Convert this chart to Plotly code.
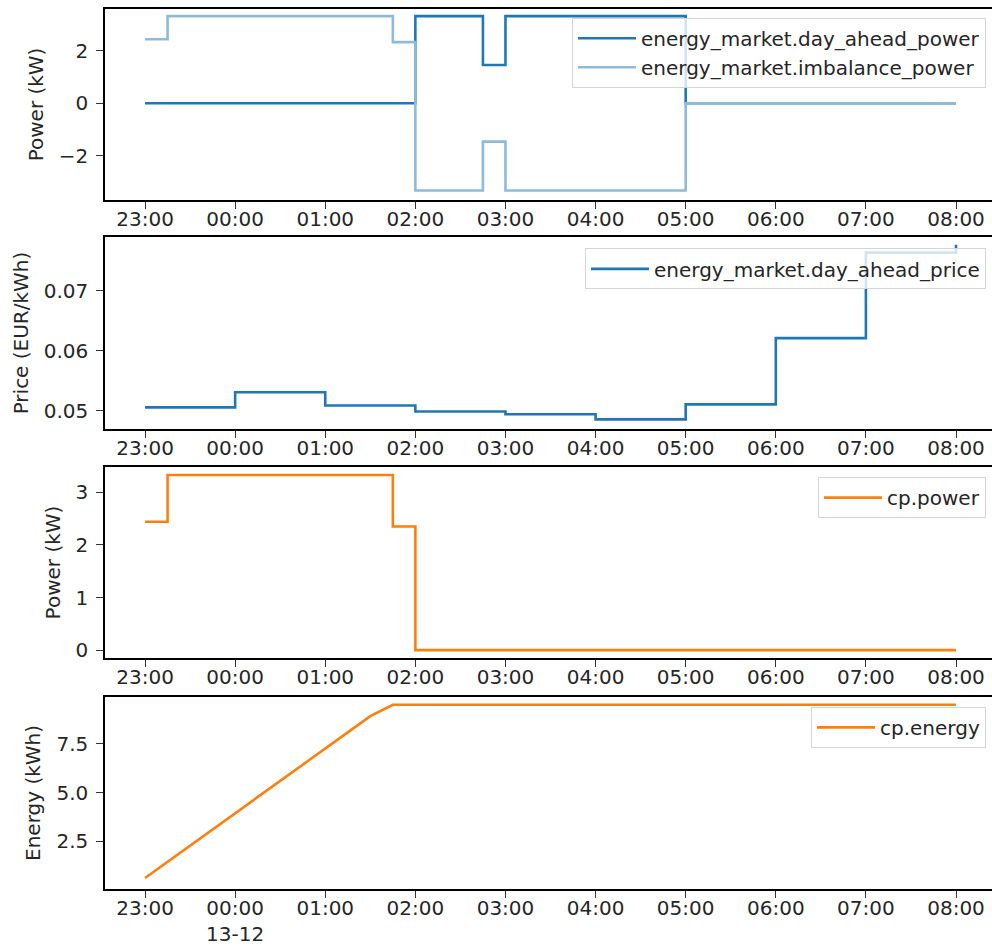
import plotly.graph_objects as go

# ---- data ----
day = "2022-12-13"
prev = "2022-12-12"

da_power_t = [f"{prev} 23:00", f"{day} 02:00", f"{day} 02:45", f"{day} 03:00", f"{day} 05:00", f"{day} 08:00"]
da_power_v = [0.0, 3.32, 1.46, 3.32, 0.0, 0.0]

imb_power_t = [f"{prev} 23:00", f"{prev} 23:15", f"{day} 01:45", f"{day} 02:00", f"{day} 02:45",
               f"{day} 03:00", f"{day} 05:00", f"{day} 08:00"]
imb_power_v = [2.44, 3.32, 2.33, -3.32, -1.46, -3.32, 0.0, 0.0]

price_t = [f"{prev} 23:00", f"{day} 00:00", f"{day} 01:00", f"{day} 02:00", f"{day} 03:00",
           f"{day} 04:00", f"{day} 05:00", f"{day} 06:00", f"{day} 07:00", f"{day} 08:00"]
price_v = [0.0506, 0.0531, 0.0509, 0.0499, 0.04945, 0.0486, 0.0511, 0.0621, 0.0763, 0.0776]

cp_power_t = [f"{prev} 23:00", f"{prev} 23:15", f"{day} 01:45", f"{day} 02:00", f"{day} 08:00"]
cp_power_v = [2.44, 3.33, 2.35, 0.0, 0.0]

cp_energy_t = [f"{prev} 23:00", f"{day} 01:30", f"{day} 01:45", f"{day} 08:00"]
cp_energy_v = [0.6, 8.93, 9.52, 9.52]

tick_vals = [f"{prev} 23:00"] + [f"{day} {h:02d}:00" for h in range(0, 9)]
tick_text = ["23:00", "00:00", "01:00", "02:00", "03:00", "04:00", "05:00", "06:00", "07:00", "08:00"]
tick_text_bottom = ["23:00", "00:00<br>13-12", "01:00", "02:00", "03:00", "04:00", "05:00", "06:00", "07:00", "08:00"]

x_range = [f"{prev} 22:33:20", f"{day} 08:42:37"]

BLUE = "#1f77b4"
LIGHT = "#8fbbd9"
ORANGE = "#ff7f0e"
FONT = "DejaVu Sans"
TXT = "#262626"

fig = go.Figure()

fig.add_trace(go.Scatter(x=da_power_t, y=da_power_v, mode="lines", line=dict(shape="hv", color=BLUE, width=2.6),
                         name="energy_market.day_ahead_power", xaxis="x", yaxis="y", legend="legend"))
fig.add_trace(go.Scatter(x=imb_power_t, y=imb_power_v, mode="lines", line=dict(shape="hv", color=LIGHT, width=2.6),
                         name="energy_market.imbalance_power", xaxis="x", yaxis="y", legend="legend"))
fig.add_trace(go.Scatter(x=price_t, y=price_v, mode="lines", line=dict(shape="hv", color=BLUE, width=2.6),
                         name="energy_market.day_ahead_price", xaxis="x2", yaxis="y2", legend="legend2"))
fig.add_trace(go.Scatter(x=cp_power_t, y=cp_power_v, mode="lines", line=dict(shape="hv", color=ORANGE, width=2.6),
                         name="cp.power", xaxis="x3", yaxis="y3", legend="legend3"))
fig.add_trace(go.Scatter(x=cp_energy_t, y=cp_energy_v, mode="lines", line=dict(color=ORANGE, width=2.6),
                         name="cp.energy", xaxis="x4", yaxis="y4", legend="legend4"))

domains = [[0.7830, 1.0], [0.5227, 0.7409], [0.2625, 0.4795], [0.0, 0.2182]]
y_ranges = [[-3.68, 3.59], [0.0470, 0.0789], [-0.15, 3.48], [0.03, 9.92]]
y_titles = ["Power (kW)", "Price (EUR/kWh)", "Power (kW)", "Energy (kWh)"]
y_ticks = [[-2, 0, 2], [0.05, 0.06, 0.07], [0, 1, 2, 3], [2.5, 5.0, 7.5]]
y_ticktext = [["−2", "0", "2"], ["0.05", "0.06", "0.07"], ["0", "1", "2", "3"], ["2.5", "5.0", "7.5"]]

axis_common = dict(showline=True, linecolor="black", linewidth=1.5, ticks="outside", ticklen=7,
                   tickwidth=1.3, tickcolor="#333", showgrid=False, zeroline=False,
                   tickfont=dict(family=FONT, size=20, color=TXT))

layout = dict(
    width=1020, height=947,
    margin=dict(l=105, r=0, t=9, b=58),
    paper_bgcolor="white", plot_bgcolor="white",
    font=dict(family=FONT, size=20, color=TXT),
)

for i in range(4):
    sfx = "" if i == 0 else str(i + 1)
    layout["xaxis" + sfx] = dict(
        axis_common, type="date", domain=[0, 1], anchor="y" + sfx, range=x_range,
        tickmode="array", tickvals=tick_vals,
        ticktext=tick_text_bottom if i == 3 else tick_text,
        mirror=True, ticklabelstandoff=-7,
    )
    layout["yaxis" + sfx] = dict(
        axis_common, domain=domains[i], anchor="x" + sfx, range=y_ranges[i],
        tickmode="array", tickvals=y_ticks[i], ticktext=y_ticktext[i],
        title=dict(text=y_titles[i], standoff=10, font=dict(family=FONT, size=20, color=TXT)),
        ticklabelstandoff=4,
    )

leg_common = dict(xanchor="right", yanchor="top", bgcolor="rgba(255,255,255,0.8)", itemwidth=58,
                  bordercolor="#d5d5d5", borderwidth=1, font=dict(family=FONT, size=20, color=TXT))
lx = (986 - 105) / 915
layout["legend"] = dict(leg_common, x=lx, y=0.990)
layout["legend2"] = dict(leg_common, x=lx, y=0.728)
layout["legend3"] = dict(leg_common, x=lx, y=0.468)
layout["legend4"] = dict(leg_common, x=lx, y=0.207)

fig.update_layout(**layout)
fig.write_html("out.html", config={"displayModeBar": False},
               post_script="document.body.style.margin='0';document.body.style.overflow='hidden';")
